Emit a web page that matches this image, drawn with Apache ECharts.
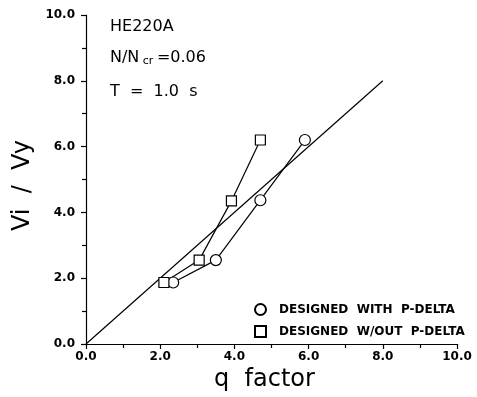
<!DOCTYPE html>
<html><head><meta charset="utf-8">
<script src="https://cdn.jsdelivr.net/npm/echarts@6/dist/echarts.min.js"></script>
<style>html,body{margin:0;padding:0;background:#fff}#c{width:477px;height:397px}</style>
</head><body><div id="c"></div>
<script>
// data
var withPD_q = [2.35, 3.5, 4.7, 5.9];
var withPD_v = [1.87, 2.55, 4.37, 6.2];
var withoutPD_q = [2.1, 3.05, 3.92, 4.7];
var withoutPD_v = [1.87, 2.55, 4.35, 6.2];
var ref_q = [0, 8];
var ref_v = [0, 8];
var seriesNames = ['DESIGNED  WITH  P-DELTA', 'DESIGNED  W/OUT  P-DELTA'];
var notes = ['HE220A', 'N/N', 'T  =  1.0  s'];

function pairs(a, b) { return a.map(function (x, i) { return [x, b[i]]; }); }

var chart = echarts.init(document.getElementById('c'));
var font = 'DejaVu Sans';
var axisCommon = {
  type: 'value', min: 0, max: 10, interval: 2,
  axisLine: { show: true, lineStyle: { color: '#000', width: 1.2 } },
  axisTick: { show: true, inside: false, length: 5, lineStyle: { color: '#000', width: 1.2 } },
  minorTick: { show: true, splitNumber: 2, length: 4, lineStyle: { color: '#000', width: 1.2 } },
  splitLine: { show: false },
  axisLabel: { color: '#000', fontFamily: font, fontWeight: 'bold', fontSize: 12,
    formatter: function (v) { return v.toFixed(1); } },
  nameTextStyle: { color: '#000', fontFamily: font, fontSize: 24 }
};
var symStyle = { color: '#fff', borderColor: '#000', borderWidth: 1.2 };
chart.setOption({
  animation: false,
  backgroundColor: '#fff',
  grid: { left: 86, right: 20, top: 15, bottom: 50 },
  xAxis: Object.assign({}, axisCommon, {
    name: 'q  factor', nameLocation: 'middle', nameGap: 24,
    nameTextStyle: Object.assign({}, axisCommon.nameTextStyle, { padding: [0, 14, 0, 0] }),
    axisLabel: Object.assign({}, axisCommon.axisLabel, { margin: 7 })
  }),
  yAxis: Object.assign({}, axisCommon, {
    name: 'Vi  /  Vy', nameLocation: 'middle', nameGap: 50,
    nameTextStyle: Object.assign({}, axisCommon.nameTextStyle, { padding: [0, 12, 0, 0] }),
    axisLabel: Object.assign({}, axisCommon.axisLabel, { margin: 11 })
  }),
  legend: {
    orient: 'vertical', left: 249, top: 298, itemGap: 9,
    itemWidth: 11, itemHeight: 11,
    textStyle: { color: '#000', fontFamily: font, fontWeight: 'bold', fontSize: 12, padding: [0, 0, 0, 8] },
    data: [{ name: seriesNames[0], icon: 'circle' }, { name: seriesNames[1], icon: 'rect' }]
  },
  series: [
    { type: 'line', data: pairs(ref_q, ref_v), showSymbol: false, symbol: 'none',
      lineStyle: { color: '#000', width: 1.2 }, z: 1, silent: true },
    { name: seriesNames[0], type: 'line', data: pairs(withPD_q, withPD_v),
      symbol: 'circle', symbolSize: 11, showSymbol: true,
      lineStyle: { color: '#000', width: 1.2 }, itemStyle: symStyle, z: 3 },
    { name: seriesNames[1], type: 'line', data: pairs(withoutPD_q, withoutPD_v),
      symbol: 'rect', symbolSize: 10, showSymbol: true,
      lineStyle: { color: '#000', width: 1.2 }, itemStyle: symStyle, z: 3 }
  ],
  graphic: [
    { type: 'text', left: 110, top: 19, style: { text: notes[0], fill: '#000', font: '16px "DejaVu Sans"' } },
    { type: 'text', left: 110, top: 50, style: {
        text: '{a|N/N}{b| cr }{a|=0.06}',
        rich: { a: { fontFamily: font, fontSize: 16, fill: '#000' },
                b: { fontFamily: font, fontSize: 11, fill: '#000', verticalAlign: 'bottom', padding: [6, 0, 0, 0] } } } },
    { type: 'text', left: 110, top: 84, style: { text: notes[2], fill: '#000', font: '16px "DejaVu Sans"' } }
  ]
});
</script></body></html>
